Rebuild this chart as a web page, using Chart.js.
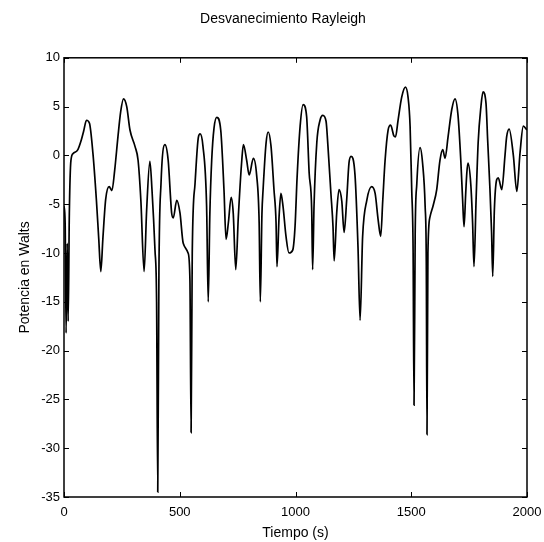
<!DOCTYPE html>
<html><head><meta charset="utf-8">
<style>html,body{margin:0;padding:0;background:#fff;}#c{display:block;}</style>
<script src="https://cdn.jsdelivr.net/npm/chart.js@4.4.1/dist/chart.umd.min.js"></script>
</head><body>
<canvas id="c" width="544" height="542"></canvas>
<script>
const titleText = 'Desvanecimiento Rayleigh';
const xLabel = 'Tiempo (s)';
const yLabel = 'Potencia en Walts';
const xTicks = [0, 500, 1000, 1500, 2000];
const yTicks = [10, 5, 0, -5, -10, -15, -20, -25, -30, -35];

const tiempo = [
  0, 5, 9, 14, 18, 23, 30, 40, 60, 75, 85, 97, 110, 125, 140, 150, 159, 168, 180, 195,
  207, 219, 233, 245, 257, 271, 285, 307, 320, 332, 346, 357, 371, 380, 393, 400, 405, 410, 419, 436,
  450, 465, 472, 487, 501, 515, 536, 544, 549, 554, 566, 580, 588, 600, 616, 623, 630, 638, 648, 660,
  677, 691, 700, 710, 722, 731, 742, 753, 768, 775, 789, 800, 818, 832, 843, 848, 855, 860, 873, 882,
  894, 907, 916, 920, 929, 937, 946, 959, 972, 988, 998, 1007, 1020, 1033, 1048, 1059, 1070, 1074, 1080, 1092,
  1106, 1118, 1132, 1140, 1153, 1162, 1167, 1178, 1188, 1200, 1210, 1221, 1231, 1240, 1257, 1270, 1279, 1290, 1308, 1329,
  1344, 1357, 1368, 1377, 1387, 1400, 1411, 1425, 1432, 1443, 1459, 1475, 1486, 1495, 1502, 1508, 1512, 1517, 1524, 1538,
  1549, 1560, 1565, 1568, 1572, 1581, 1595, 1610, 1624, 1636, 1646, 1659, 1675, 1689, 1702, 1714, 1722, 1728, 1735, 1740,
  1745, 1757, 1765, 1771, 1780, 1789, 1801, 1810, 1823, 1830, 1840, 1847, 1852, 1859, 1869, 1876, 1891, 1905, 1912, 1923,
  1941, 1956, 1970, 1984, 2000
];
const potencia = [
  -5.2, -7, -18.2, -9, -17, -6, -0.5, 0.2, 0.6, 1.6, 2.5, 3.6, 3.3, 0.2, -4.6, -8.5, -11.9, -8.5, -4.5, -3.2,
  -3.6, -1.5, 1.9, 4.5, 5.8, 5.0, 2.6, 0.9, -0.5, -4.6, -11.9, -5.6, -0.6, -3.5, -9.7, -15, -34.5, -12, -2.9, 1.1,
  -0.5, -5.9, -6.4, -4.6, -5.9, -9.0, -10, -12.8, -28.4, -10, -2.9, 1.8, 2.2, 1.0, -5.2, -15, -6, -0.5, 2.8, 3.9,
  2.6, -3.5, -8.6, -6.9, -4.3, -5.9, -11.7, -6.3, -0.5, 1.1, -0.5, -2.0, -0.3, -2.0, -6.9, -15, -6, -3.5, 1.3, 2.4,
  1.0, -3.5, -6.9, -11.4, -6.3, -3.9, -5.2, -8.3, -10, -9.7, -7.3, -2.2, 3.0, 5.2, 4.0, -1.8, -5.6, -11.7, -5.2, 1.3,
  3.6, 4.1, 3.5, 1.0, -3.9, -7.3, -10.8, -5.9, -3.5, -4.7, -7.9, -4.6, -0.8, -0.1, -2.0, -9.4, -16.9, -8.3, -4.6, -3.2,
  -3.9, -6.6, -8.3, -4.6, -0.5, 2.6, 3.1, 2.0, 1.9, 3.6, 6.0, 7.0, 6.0, 3.0, -3.5, -9.7, -25.6, -8, -2.9, 0.8,
  -0.8, -5.2, -11, -28.6, -10, -6.3, -5.1, -3.5, -0.5, 0.6, -0.3, 1.9, 4.7, 5.8, 4.1, -0.5, -4.6, -7.3, -4, -1.8,
  -0.8, -2.9, -6.9, -11.4, -4.6, 1.3, 5.0, 6.5, 5.3, 1.6, -3.5, -7.9, -12.4, -5.6, -2.5, -2.3, -3.5, 0, 1.9, 2.7,
  0, -3.7, 0.3, 3.0, 2.6
];

const FONT = 'Liberation Sans, Arial, Helvetica, sans-serif';

const boxTicks = {
  id: 'boxTicks',
  afterDatasetsDraw(chart) {
    const {ctx, chartArea: a, scales} = chart;
    ctx.save();
    ctx.strokeStyle = '#000';
    ctx.lineWidth = 1.5;
    ctx.strokeRect(a.left, a.top, a.right - a.left, a.bottom - a.top);
    ctx.lineWidth = 1;
    const L = 5;
    ctx.beginPath();
    xTicks.forEach(v => {
      const px = Math.round(scales.x.getPixelForValue(v)) + 0.5;
      ctx.moveTo(px, a.bottom); ctx.lineTo(px, a.bottom - L);
      ctx.moveTo(px, a.top); ctx.lineTo(px, a.top + L);
    });
    yTicks.forEach(v => {
      const py = Math.round(scales.y.getPixelForValue(v)) + 0.5;
      ctx.moveTo(a.left, py); ctx.lineTo(a.left + L, py);
      ctx.moveTo(a.right, py); ctx.lineTo(a.right - L, py);
    });
    ctx.stroke();
    ctx.restore();
  }
};

const padL = 39;
const padR = 17;

new Chart(document.getElementById('c'), {
  type: 'line',
  data: {
    datasets: [{
      data: tiempo.map((t, i) => ({x: t, y: potencia[i]})),
      borderColor: '#000',
      borderWidth: 1.7,
      pointRadius: 0,
      cubicInterpolationMode: 'monotone',
      fill: false
    }]
  },
  options: {
    responsive: false,
    animation: false,
    devicePixelRatio: 1,
    layout: {padding: {left: padL, right: padR, top: 0, bottom: 0}},
    plugins: {
      legend: {display: false},
      tooltip: {enabled: false},
      title: {
        display: true, text: titleText, color: '#000',
        font: {family: FONT, size: 14, weight: 'normal'},
        padding: {top: 11, bottom: 30}
      }
    },
    scales: {
      x: {
        type: 'linear', min: 0, max: 2000,
        afterBuildTicks: s => { s.ticks = xTicks.map(v => ({value: v})); },
        ticks: {color: '#000', font: {family: FONT, size: 13}, padding: 8, maxRotation: 0,
                callback: v => String(v)},
        grid: {display: false, drawTicks: false},
        border: {display: false},
        title: {display: true, text: xLabel, color: '#000', font: {family: FONT, size: 14}, padding: {top: 0, bottom: 0}},
        afterFit: s => { s.height = 45; s.paddingLeft = 0; s.paddingRight = 0; }
      },
      y: {
        type: 'linear', min: -35, max: 10,
        afterBuildTicks: s => { s.ticks = yTicks.map(v => ({value: v})); },
        ticks: {color: '#000', font: {family: FONT, size: 13}, padding: 4,
                callback: v => String(v)},
        grid: {display: false, drawTicks: false},
        border: {display: false},
        title: {display: true, text: yLabel, color: '#000', font: {family: FONT, size: 14}, padding: {top: 17 - padL, bottom: 0}},
        afterFit: s => { s.width = 64 - padL; }
      }
    }
  },
  plugins: [boxTicks]
});
</script>
</body></html>
